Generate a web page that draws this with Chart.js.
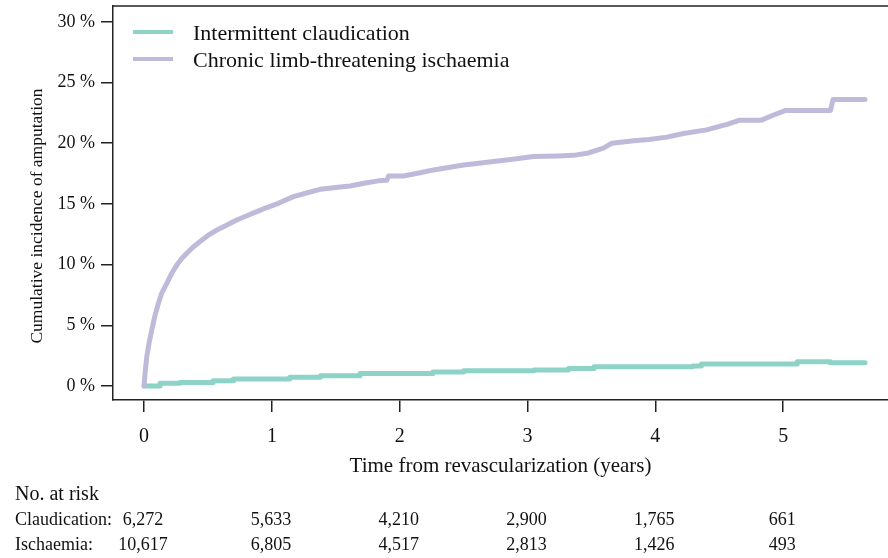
<!DOCTYPE html>
<html>
<head>
<meta charset="utf-8">
<title>Cumulative incidence of amputation</title>
<script src="https://cdn.jsdelivr.net/npm/chart.js@4.4.0/dist/chart.umd.min.js"></script>
<style>
  html, body { margin: 0; padding: 0; background: #fff; }
  #wrap { width: 888px; height: 558px; position: relative; }
</style>
</head>
<body>
<div id="wrap"><canvas id="kmChart"></canvas></div>
<script>
// time (years) and cumulative incidence (%)
const claudTimes = [0, 0.125, 0.28, 0.54, 0.70, 1.14, 1.38, 1.69, 2.26, 2.5, 2.79, 3.05, 3.32, 3.52, 4.29, 4.36, 5.11, 5.37, 5.64];
const claudValues = [0, 0.22, 0.3, 0.44, 0.58, 0.72, 0.85, 1.04, 1.15, 1.26, 1.26, 1.32, 1.45, 1.59, 1.65, 1.81, 2.0, 1.92, 1.92];

const cltiTimes = [0, 0.01, 0.021, 0.04, 0.06, 0.085, 0.112, 0.14, 0.178, 0.215, 0.256, 0.295, 0.334, 0.385, 0.438, 0.5,
  0.569, 0.645, 0.725, 0.8, 0.882, 0.96, 1.051, 1.168, 1.27, 1.377, 1.5, 1.612, 1.72, 1.833, 1.9, 1.912, 2.03, 2.15, 2.264,
  2.38, 2.5, 2.62, 2.733, 2.9, 3.046, 3.24, 3.36, 3.477, 3.594, 3.66, 3.83, 3.95, 4.09, 4.22, 4.40, 4.56, 4.66, 4.83,
  4.92, 5.02, 5.37, 5.39, 5.64];
const cltiValues = [0, 1.3, 2.4, 3.6, 4.6, 5.8, 6.8, 7.7, 8.46, 9.25, 9.97, 10.5, 10.93, 11.45, 11.9, 12.4,
  12.85, 13.25, 13.67, 14.0, 14.36, 14.7, 15.05, 15.6, 15.9, 16.2, 16.35, 16.47, 16.7, 16.9, 16.95, 17.3, 17.3, 17.55, 17.8,
  18.0, 18.2, 18.35, 18.5, 18.7, 18.9, 18.95, 19.0, 19.2, 19.6, 20.0, 20.2, 20.3, 20.5, 20.8, 21.1, 21.55, 21.9, 21.9,
  22.3, 22.7, 22.7, 23.6, 23.6];

const xTicks = [0, 1, 2, 3, 4, 5];
const yTicks = [0, 5, 10, 15, 20, 25, 30];

// numbers at risk
const riskTimes = [0, 1, 2, 3, 4, 5];
const riskClaud = [6272, 5633, 4210, 2900, 1765, 661];
const riskIsch = [10617, 6805, 4517, 2813, 1426, 493];

const serif = '"Liberation Serif", "Times New Roman", serif';
const toPts = (ts, vs) => ts.map((t, i) => ({ x: t, y: vs[i] }));

// legend, top frame line, y title and risk table
const extras = {
  id: 'extras',
  beforeDatasetsDraw(chart) {
    const { ctx, chartArea } = chart;
    ctx.save();
    ctx.strokeStyle = '#222';
    ctx.lineWidth = 1.5;
    ctx.beginPath();
    ctx.moveTo(chartArea.left, chartArea.top);
    ctx.lineTo(chartArea.right, chartArea.top);
    ctx.stroke();
    ctx.restore();
  },
  afterDraw(chart) {
    const { ctx } = chart;
    const xs = chart.scales.x;
    ctx.save();

    // legend
    const legY = [32, 59];
    chart.data.datasets.forEach((ds, i) => {
      ctx.strokeStyle = ds.borderColor;
      ctx.lineWidth = 4;
      ctx.beginPath();
      ctx.moveTo(133, legY[i]);
      ctx.lineTo(173, legY[i]);
      ctx.stroke();
      ctx.fillStyle = '#111';
      ctx.font = '22px ' + serif;
      ctx.textBaseline = 'middle';
      ctx.textAlign = 'left';
      ctx.fillText(ds.label, 193, legY[i] + 2);
    });

    // y axis title
    ctx.save();
    ctx.translate(37, 216);
    ctx.rotate(-Math.PI / 2);
    ctx.font = '17.5px ' + serif;
    ctx.textAlign = 'center';
    ctx.textBaseline = 'middle';
    ctx.fillText('Cumulative incidence of amputation', 0, 0);
    ctx.restore();

    // risk table
    ctx.fillStyle = '#111';
    ctx.textBaseline = 'alphabetic';
    ctx.textAlign = 'left';
    ctx.font = '20px ' + serif;
    ctx.fillText('No. at risk', 15, 500);
    ctx.font = '18px ' + serif;
    ctx.fillText('Claudication:', 15, 525);
    ctx.fillText('Ischaemia:', 15, 550);
    ctx.textAlign = 'center';
    riskTimes.forEach((t, i) => {
      const px = xs.getPixelForValue(t) - 1;
      ctx.fillText(riskClaud[i].toLocaleString('en-US'), px, 525);
      ctx.fillText(riskIsch[i].toLocaleString('en-US'), px, 550);
    });
    ctx.restore();
  }
};

new Chart(document.getElementById('kmChart').getContext('2d'), {
  type: 'line',
  data: {
    datasets: [
      {
        label: 'Intermittent claudication',
        data: toPts(claudTimes, claudValues),
        borderColor: '#8dd3c7',
        borderWidth: 5,
        stepped: true,
        pointRadius: 0,
        borderCapStyle: 'round',
        borderJoinStyle: 'round',
        order: 1
      },
      {
        label: 'Chronic limb-threatening ischaemia',
        data: toPts(cltiTimes, cltiValues),
        borderColor: '#bebada',
        borderWidth: 5,
        tension: 0,
        pointRadius: 0,
        borderCapStyle: 'round',
        borderJoinStyle: 'round',
        order: 0
      }
    ]
  },
  options: {
    responsive: true,
    maintainAspectRatio: false,
    animation: false,
    layout: { padding: { top: 6, right: 0, bottom: 78, left: 0 } },
    plugins: {
      legend: { display: false },
      tooltip: { enabled: false }
    },
    scales: {
      x: {
        type: 'linear',
        min: -0.243,
        max: 5.82,
        afterBuildTicks: s => { s.ticks = xTicks.map(v => ({ value: v })); },
        afterFit: s => { s.height = 80; s.paddingLeft = 0; s.paddingRight = 0; },
        grid: { drawOnChartArea: false, drawTicks: true, tickLength: 12, color: '#222', lineWidth: 1.5 },
        border: { display: true, color: '#222', width: 1.5 },
        ticks: { color: '#111', padding: 13, maxRotation: 0, font: { family: serif, size: 20 } },
        title: {
          display: true,
          text: 'Time from revascularization (years)',
          color: '#111',
          padding: { top: 0, bottom: 1 },
          font: { family: serif, size: 21 }
        }
      },
      y: {
        type: 'linear',
        min: -1.15,
        max: 31.3,
        afterBuildTicks: s => { s.ticks = yTicks.map(v => ({ value: v })); },
        afterFit: s => { s.width = 113; s.paddingTop = 0; s.paddingBottom = 0; },
        grid: { drawOnChartArea: false, drawTicks: true, tickLength: 12, color: '#222', lineWidth: 1.5 },
        border: { display: true, color: '#222', width: 1.5 },
        ticks: { color: '#111', padding: 6, font: { family: serif, size: 18 }, callback: v => v + ' %' }
      }
    }
  },
  plugins: [extras]
});
</script>
</body>
</html>
